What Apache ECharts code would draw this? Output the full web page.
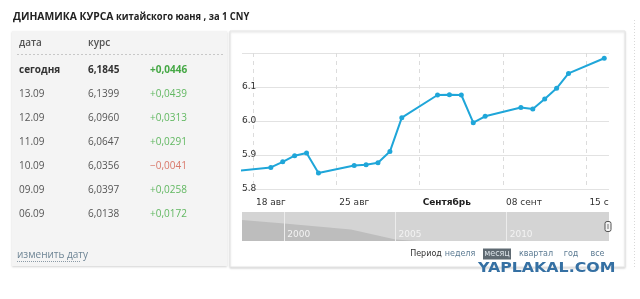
<!DOCTYPE html>
<html><head><meta charset="utf-8">
<script src="https://cdn.jsdelivr.net/npm/echarts@6/dist/echarts.min.js"></script>
<style>html,body{margin:0;padding:0;background:#fff}#c{width:640px;height:299px}</style>
</head><body><div id="c"></div><script>
// ---- data ----
const rateDates = ['2013-08-16','2013-08-19','2013-08-20','2013-08-21','2013-08-22','2013-08-23',
  '2013-08-26','2013-08-27','2013-08-28','2013-08-29','2013-08-30',
  '2013-09-02','2013-09-03','2013-09-04','2013-09-05','2013-09-06',
  '2013-09-09','2013-09-10','2013-09-11','2013-09-12','2013-09-13','2013-09-16'];
const rates = [5.853, 5.8635, 5.880, 5.898, 5.906, 5.847,
  5.869, 5.8715, 5.877, 5.910, 6.0097,
  6.0765, 6.0774, 6.0765, 5.995, 6.0138,
  6.0397, 6.0356, 6.0647, 6.0960, 6.1399, 6.1845];
const tickDates = ['2013-08-18','2013-08-25','2013-09-01','2013-09-08','2013-09-15'];
const tickLabels = ['18 авг','25 авг','Сентябрь','08 сент','15 сент'];
const tableDates = ['сегодня','13.09','12.09','11.09','10.09','09.09','06.09'];
const tableRates = ['6,1845','6,1399','6,0960','6,0647','6,0356','6,0397','6,0138'];
const tableChanges = ['+0,0446','+0,0439','+0,0313','+0,0291','\u22120,0041','+0,0258','+0,0172'];
const navYears = [1998.1, 2000, 2003, 2005, 2006, 2014.6];
const navValues = [0.72, 0.6, 0.4, 0.05, 0, 0];
const navTickYears = [2000, 2005, 2010];
const periods = ['неделя','месяц','квартал','год','все'];

// ---- helpers ----
const base = Date.parse('2013-08-18T00:00:00Z');
const dayNum = d => (Date.parse(d + 'T00:00:00Z') - base) / 864e5;
const ticks = tickDates.map(dayNum);
const lineData = rateDates.map((d, i) => [dayNum(d) + 0.5, rates[i]]);
const F = 'DejaVu Sans';
const OS = 'Open Sans';

function xLabel(v) {
  const i = ticks.findIndex(t => Math.abs(t - v) < 1e-6);
  if (i < 0) return '';
  let s = tickLabels[i];
  if (i === tickLabels.length - 1 && echarts.format && echarts.format.truncateText) {
    s = echarts.format.truncateText(s, 21, '9px ' + F, '');
  }
  return i === 2 ? '{b|' + s + '}' : s;
}

const g = [];
g.push({type:'rect', z:-10, shape:{x:12,y:31,width:215,height:235},
  style:{fill:'#f4f4f4', shadowBlur:2, shadowOffsetY:1, shadowColor:'rgba(0,0,0,0.18)'}});
g.push({type:'rect', z:-10, shape:{x:230,y:31,width:395,height:236},
  style:{fill:'#fff', stroke:'#e6e6e6', lineWidth:1, shadowBlur:2, shadowOffsetY:1, shadowColor:'rgba(0,0,0,0.15)'}});
g.push({type:'line', z:-10, shape:{x1:634.5,y1:20,x2:634.5,y2:268},
  style:{stroke:'#d8d8d8', lineDash:[1,2], lineWidth:1}});
g.push({type:'text', x:13, y:17, scaleX:0.94, originX:0, originY:0,
  style:{text:'{a|ДИНАМИКА КУРСА} китайского юаня , за 1 CNY',
  font:'bold 10px ' + OS, fill:'#222', verticalAlign:'middle',
  rich:{a:{fontWeight:'bold', fontFamily:OS, fontSize:11, fill:'#222'}}}});
g.push({type:'text', x:19, y:43, style:{text:'дата', font:'600 10px ' + OS, fill:'#555', verticalAlign:'middle'}});
g.push({type:'text', x:88, y:43, style:{text:'курс', font:'600 10px ' + OS, fill:'#555', verticalAlign:'middle'}});
g.push({type:'line', shape:{x1:17,y1:54.5,x2:223,y2:54.5}, style:{stroke:'#c8c8c8', lineDash:[2,2], lineWidth:1}});
tableDates.forEach((d, i) => {
  const y = 70 + i * 24.1;
  const bold = i === 0;
  const w = bold ? 'bold ' : '';
  const neg = tableChanges[i].charAt(0) !== '+';
  g.push({type:'text', x:19, y, style:{text:d, font:w + '10px ' + OS, fill: bold ? '#333' : '#555', verticalAlign:'middle'}});
  g.push({type:'text', x:88, y, style:{text:tableRates[i], font:w + '10px ' + OS, fill: bold ? '#333' : '#555', verticalAlign:'middle'}});
  g.push({type:'text', x:150, y, style:{text:tableChanges[i], font:w + '10px ' + OS,
    fill: neg ? '#d9786a' : (bold ? '#45a845' : '#62b862'), verticalAlign:'middle'}});
});
g.push({type:'text', x:17, y:255, style:{text:'изменить дату', font:'10px ' + OS, fill:'#6d8494', verticalAlign:'middle'}});
g.push({type:'line', shape:{x1:17,y1:261.5,x2:81,y2:261.5}, style:{stroke:'#8a9aa6', lineDash:[1,1], lineWidth:1}});
// period selector
g.push({type:'text', x:426, y:254, style:{text:'Период', font:'8px ' + F, fill:'#333', align:'center', verticalAlign:'middle'}});
const px = [460, 497, 536, 571, 597.5];
g.push({type:'rect', shape:{x:483,y:248.5,width:28,height:11}, style:{fill:'#5f6a72'}});
periods.forEach((p, i) => {
  g.push({type:'text', x:px[i], y:254, style:{text:p, font:'8px ' + F, fill: i === 1 ? '#dde4ea' : '#5b7a92', align:'center', verticalAlign:'middle'}});
});
// navigator handle
g.push({type:'rect', shape:{x:605,y:221.5,width:6,height:10,r:2}, style:{fill:'#f2f2f2', stroke:'#555', lineWidth:1}});
g.push({type:'line', shape:{x1:608,y1:224,x2:608,y2:229}, style:{stroke:'#777', lineWidth:1}});
// watermark
g.push({type:'text', x:478, y:268.5, scaleX:1.13, originX:0, originY:0,
  style:{text:'YAPLAKAL.COM', font:'bold 14px ' + F, fill:'#3570a3', verticalAlign:'middle'}});

const chart = echarts.init(document.getElementById('c'), null, {renderer:'canvas'});
chart.setOption({
  animation:false,
  backgroundColor:'#fff',
  graphic: g,
  grid:[
    {left:242, top:53, width:367, height:136, containLabel:false},
    {left:242, top:212, width:367, height:29, show:true, backgroundColor:'#d4d4d4', borderWidth:0}
  ],
  xAxis:[
    {type:'value', gridIndex:0, min:-0.92, max:29.9,
      axisLine:{show:false}, axisTick:{show:false, customValues:ticks},
      splitLine:{show:true, lineStyle:{color:'#dcdcdc', type:[4,4], width:1}},
      axisLabel:{customValues:ticks, formatter:xLabel, align:'left', padding:[0,0,0,3], margin:9,
        fontFamily:F, fontSize:9, color:'#333',
        rich:{b:{fontFamily:F, fontSize:9, fontWeight:'bold', color:'#222'}}}},
    {type:'value', gridIndex:1, min:1998.1, max:2014.6, z:5,
      axisLine:{show:false}, axisTick:{show:false, customValues:navTickYears},
      splitLine:{show:true, lineStyle:{color:'#ececec', width:1}},
      axisLabel:{customValues:navTickYears, inside:true, align:'left', padding:[0,0,0,3], margin:2,
        fontFamily:F, fontSize:9, color:'#f3f3f3', formatter: v => String(v)}}
  ],
  yAxis:[
    {type:'value', gridIndex:0, min:5.8, max:6.2, interval:0.1,
      axisLine:{show:false}, axisTick:{show:false},
      splitLine:{lineStyle:{color:'#e2e2e2', width:1}},
      axisLabel:{inside:true, showMaxLabel:false, align:'left', verticalAlign:'middle', margin:0,
        lineHeight:10, padding:[0,0,9,0], fontFamily:F, fontSize:9, color:'#333', formatter: v => v.toFixed(1)}},
    {type:'value', gridIndex:1, min:0, max:1, show:false}
  ],
  series:[
    {type:'line', xAxisIndex:0, yAxisIndex:0, data:lineData, clip:true,
      symbol:'circle', symbolSize:5, showAllSymbol:true,
      lineStyle:{color:'#1fa6d9', width:2}, itemStyle:{color:'#1fa6d9'}},
    {type:'line', xAxisIndex:1, yAxisIndex:1, silent:true,
      data:navYears.map((y, i) => [y, navValues[i]]), symbol:'none',
      lineStyle:{width:0}, areaStyle:{color:'#bdbdbd', opacity:1}, z:1}
  ]
});
</script></body></html>
